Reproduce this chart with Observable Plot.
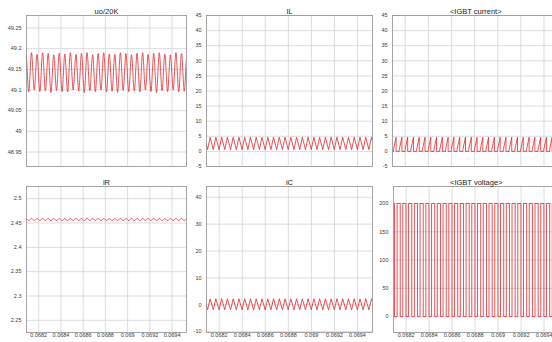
<!DOCTYPE html>
<html>
<head>
<meta charset="utf-8">
<script src="https://cdn.jsdelivr.net/npm/d3@7"></script>
<script src="https://cdn.jsdelivr.net/npm/@observablehq/plot@0.6"></script>
<style>
  html, body { margin: 0; padding: 0; background: #fff; }
  #wrap { position: relative; width: 552px; height: 342px; overflow: hidden; background: #fff; }
  #wrap > div, #wrap > svg { position: absolute; }
</style>
</head>
<body>
<div id="wrap"></div>
<script>
// ---------- data ----------
const titles = ["uo/20K", "IL", "<IGBT current>", "iR", "iC", "<IGBT voltage>"];
const xDomain = [0.06809, 0.06953];
const xTicks = [0.0682, 0.0684, 0.0686, 0.0688, 0.069, 0.0692, 0.0694];

const uoTicks = [48.95, 49, 49.05, 49.1, 49.15, 49.2, 49.25];
const ilTicks = [-5, 0, 5, 10, 15, 20, 25, 30, 35, 40, 45];
const irTicks = [2.25, 2.3, 2.35, 2.4, 2.45, 2.5];
const icTicks = [-10, 0, 10, 20, 30, 40];
const vTicks = [0, 50, 100, 150, 200];

// switching: 20 kHz, first turn-on just before the visible window
const firstTurnOn = 0.06804875;
const period = 0.00005;
const duty = 0.45;

// per-cycle extremes
const uoHi = [49.188,49.19,49.186,49.19,49.188,49.185,49.189,49.187,49.19,49.186,49.188,49.19,49.185,49.188,49.19,49.187,49.186,49.19,49.188,49.185,49.189,49.19,49.186,49.188,49.19,49.187,49.185,49.19,49.188,49.19,49.187];
const uoLo = [49.098,49.095,49.1,49.096,49.098,49.094,49.099,49.096,49.095,49.1,49.097,49.094,49.098,49.096,49.1,49.095,49.097,49.094,49.099,49.096,49.098,49.095,49.1,49.096,49.094,49.098,49.096,49.1,49.095,49.097,49.098];
const ilLo = [0.6,0.62,0.6,0.58,0.6,0.62,0.6,0.6,0.58,0.6,0.62,0.6,0.6,0.58,0.6,0.62,0.6,0.6,0.58,0.6,0.62,0.6,0.6,0.58,0.6,0.62,0.6,0.6,0.58,0.6,0.62];
const ilHi = [4.7,4.68,4.7,4.72,4.7,4.68,4.7,4.7,4.72,4.7,4.68,4.7,4.7,4.72,4.7,4.68,4.7,4.7,4.72,4.7,4.68,4.7,4.7,4.72,4.7,4.68,4.7,4.7,4.72,4.7,4.68];
const irHi = [2.4594,2.4595,2.4593,2.4595,2.4594,2.4592,2.4594,2.4593,2.4595,2.4593,2.4594,2.4595,2.4592,2.4594,2.4595,2.4593,2.4593,2.4595,2.4594,2.4592,2.4594,2.4595,2.4593,2.4594,2.4595,2.4593,2.4592,2.4595,2.4594,2.4595,2.4593];
const irLo = [2.4549,2.4547,2.455,2.4548,2.4549,2.4547,2.4549,2.4548,2.4547,2.455,2.4548,2.4547,2.4549,2.4548,2.455,2.4547,2.4548,2.4547,2.4549,2.4548,2.4549,2.4547,2.455,2.4548,2.4547,2.4549,2.4548,2.455,2.4547,2.4548,2.4549];
const icLo = [-1.86,-1.84,-1.86,-1.88,-1.86,-1.84,-1.86,-1.86,-1.88,-1.86,-1.84,-1.86,-1.86,-1.88,-1.86,-1.84,-1.86,-1.86,-1.88,-1.86,-1.84,-1.86,-1.86,-1.88,-1.86,-1.84,-1.86,-1.86,-1.88,-1.86,-1.84];
const icHi = [2.24,2.22,2.24,2.26,2.24,2.22,2.24,2.24,2.26,2.24,2.22,2.24,2.24,2.26,2.24,2.22,2.24,2.24,2.26,2.24,2.22,2.24,2.24,2.26,2.24,2.22,2.24,2.24,2.26,2.24,2.22];
const vOn = 0;      // IGBT voltage while conducting
const vOff = 200;   // IGBT voltage while blocking

// ---------- build tables ----------
const uo = [], il = [], igbtI = [], ir = [], ic = [], igbtV = [];
uoHi.forEach((_, k) => {
  const ton = firstTurnOn + k * period;
  const toff = ton + duty * period;
  const tMin = ton + duty * period / 2;
  const tMax = toff + (1 - duty) * period / 2;
  uo.push({t: tMin, v: uoLo[k]}, {t: tMax, v: uoHi[k]});
  ir.push({t: tMin, v: irLo[k]}, {t: tMax, v: irHi[k]});
  il.push({t: ton, v: ilLo[k]}, {t: toff, v: ilHi[k]});
  ic.push({t: ton, v: icLo[k]}, {t: toff, v: icHi[k]});
  igbtI.push({t: ton, v: 0}, {t: ton, v: ilLo[k]}, {t: toff, v: ilHi[k]}, {t: toff, v: 0});
  igbtV.push({t: ton, v: vOff}, {t: ton, v: vOn}, {t: toff, v: vOn}, {t: toff, v: vOff});
});

// ---------- drawing ----------
const FONT = "'Liberation Sans', Arial, Helvetica, sans-serif";
const RED = "#e3262c";
const fmt = d => String(+d.toFixed(4));

function panel({title, data, yDomain, yTicks, left, top, width, height, ml, mt, mb, showX, curve}) {
  const chart = Plot.plot({
    width, height,
    marginLeft: ml, marginRight: 4, marginTop: mt, marginBottom: mb,
    style: {fontFamily: FONT, fontSize: "5.5px", color: "#3a3a3a", background: "transparent", overflow: "visible"},
    x: {domain: xDomain, axis: null},
    y: {domain: yDomain, axis: null},
    marks: [
      Plot.gridX(xTicks, {stroke: "#d4d4d4", strokeOpacity: 1, strokeWidth: 0.8}),
      Plot.gridY(yTicks, {stroke: "#d4d4d4", strokeOpacity: 1, strokeWidth: 0.8}),
      Plot.line(data, {x: "t", y: "v", stroke: RED, strokeWidth: 0.8, curve: curve || "linear", clip: true}),
      Plot.frame({stroke: "#8f8f8f", strokeWidth: 0.8}),
      Plot.axisY(yTicks, {tickSize: 0, tickPadding: 5, tickFormat: fmt, fontSize: 5.5, label: null}),
      showX ? Plot.axisX(xTicks, {tickSize: 0, tickPadding: 1, tickFormat: fmt, fontSize: 5.5, label: null}) : null,
      Plot.text([title], {frameAnchor: "top", dy: -1.5, lineAnchor: "bottom", fontSize: 7.5, fill: "#222"})
    ]
  });
  chart.style.left = left + "px";
  chart.style.top = top + "px";
  document.getElementById("wrap").appendChild(chart);
}

// row 1 (frames y 15..166)
panel({title: titles[0], data: uo, yDomain: [48.915, 49.28], yTicks: uoTicks,
  left: 0, top: 0, width: 190, height: 170, ml: 26, mt: 15, mb: 4, showX: false, curve: "monotone-x"});
panel({title: titles[1], data: il, yDomain: [-5, 45], yTicks: ilTicks,
  left: 186, top: 0, width: 190, height: 170, ml: 20, mt: 15, mb: 4, showX: false});
panel({title: titles[2], data: igbtI, yDomain: [-5, 45], yTicks: ilTicks,
  left: 372, top: 0, width: 190.5, height: 170, ml: 20, mt: 15, mb: 4, showX: false});
// row 2 (frames y 186..332)
panel({title: titles[3], data: ir, yDomain: [2.225, 2.525], yTicks: irTicks,
  left: 0, top: 170, width: 190, height: 172, ml: 26, mt: 16, mb: 10, showX: true, curve: "monotone-x"});
panel({title: titles[4], data: ic, yDomain: [-10.3, 44], yTicks: icTicks,
  left: 186, top: 170, width: 190, height: 172, ml: 20, mt: 16, mb: 10, showX: true});
panel({title: titles[5], data: igbtV, yDomain: [-28, 230], yTicks: vTicks,
  left: 372, top: 170, width: 190.5, height: 172, ml: 21, mt: 16, mb: 10, showX: true});
</script>
</body>
</html>
